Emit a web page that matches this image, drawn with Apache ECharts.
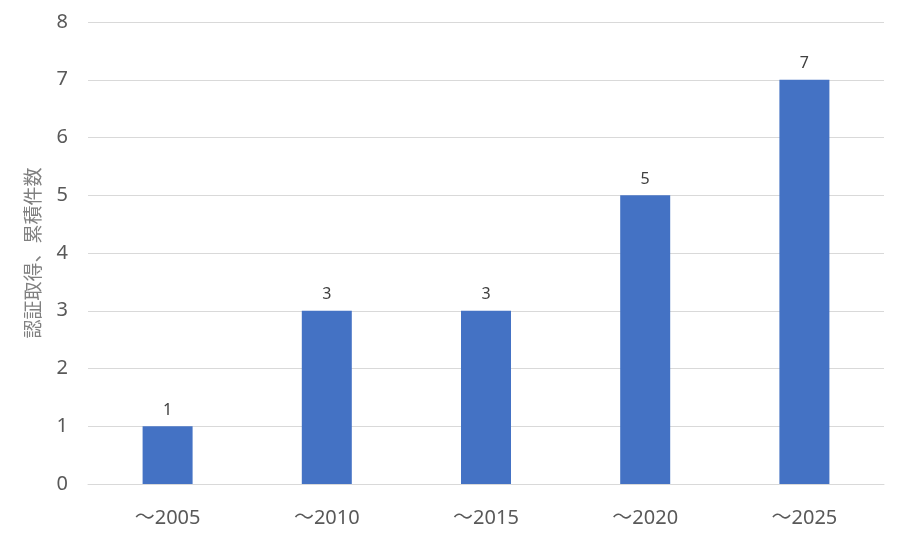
<!DOCTYPE html>
<html><head><meta charset="utf-8">
<script src="https://cdn.jsdelivr.net/npm/echarts@6/dist/echarts.min.js"></script>
<style>html,body{margin:0;padding:0;background:#fff}#c{width:900px;height:550px}</style>
</head><body><div id="c"></div>
<script>
const categories = ['～2005', '～2010', '～2015', '～2020', '～2025'];
const values = [1, 3, 3, 5, 7];
const yAxisName = '認証取得、累積件数';

const chart = echarts.init(document.getElementById('c'));
chart.setOption({
  animation: false,
  textStyle: { fontFamily: '"Noto Sans", "Noto Sans CJK JP", sans-serif' },
  grid: { left: 88, right: 16, top: 22, bottom: 66 },
  xAxis: {
    type: 'category', data: categories,
    axisLine: { lineStyle: { color: '#d9d9d9', width: 1 } },
    axisTick: { show: false },
    axisLabel: { color: '#595959', fontSize: 20, margin: 24 }
  },
  yAxis: {
    type: 'value', min: 0, max: 8, interval: 1,
    name: yAxisName, nameLocation: 'middle', nameRotate: 90, nameGap: 46,
    nameTextStyle: { color: '#808080', fontSize: 19, fontFamily: '"Noto Sans CJK JP", sans-serif' },
    axisLine: { show: false }, axisTick: { show: false },
    axisLabel: { color: '#595959', fontSize: 20, margin: 20 },
    splitLine: { lineStyle: { color: '#d9d9d9', width: 1 } }
  },
  series: [{
    type: 'bar', data: values, barWidth: 50,
    itemStyle: { color: '#4472C4' },
    label: { show: true, position: 'top', color: '#404040', fontSize: 16, distance: 8 }
  }]
});
</script></body></html>
